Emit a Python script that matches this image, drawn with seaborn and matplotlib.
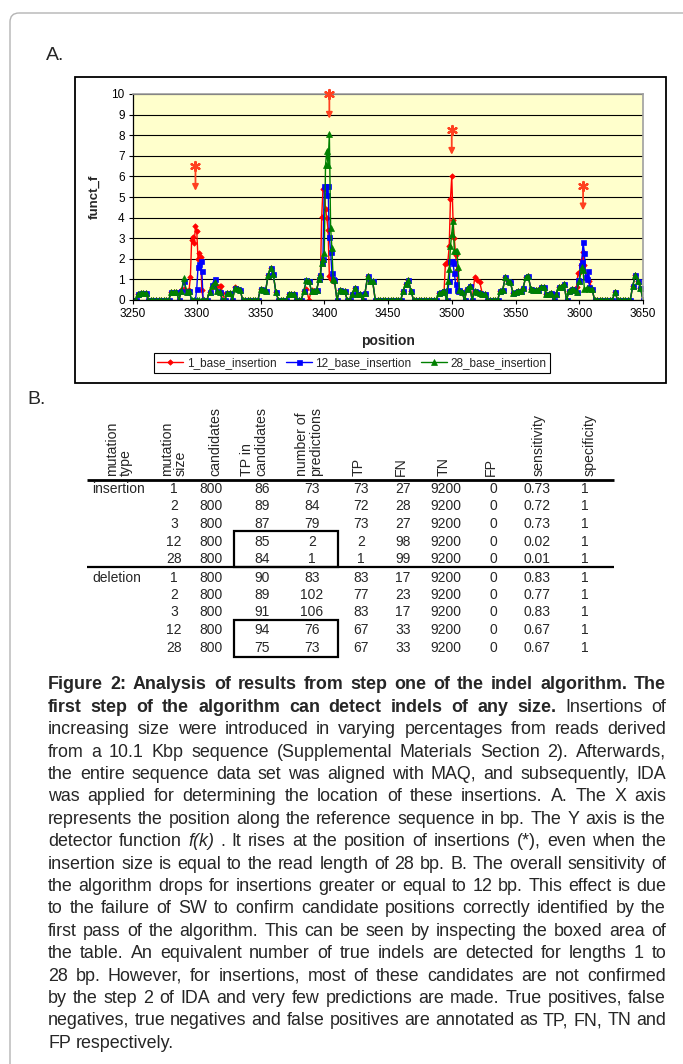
import matplotlib
matplotlib.use("Agg")
import matplotlib.pyplot as plt
import numpy as np
import pandas as pd
import seaborn as sns
from matplotlib import font_manager
from matplotlib.patches import FancyBboxPatch, Rectangle

# ---------------- data: detector function f(k) ----------------
positions = list(range(3250, 3651, 2))
base_funct = [
    0, 0, 0.3, 0.35, 0.35, 0.35, 0, 0, 0, 0,            # 3250-3268
    0, 0, 0, 0, 0, 0.4, 0.4, 0.4, 0, 0.45,              # 3270-3288
    1.05, 0.4, 0.45, 0, 0, 0, 0, 0, 0, 0,               # 3290-3308
    0.4, 0.7, 0.85, 0.45, 0.4, 0, 0, 0.35, 0.35, 0,     # 3310-3328
    0.6, 0.55, 0.5, 0, 0, 0, 0, 0, 0, 0,                # 3330-3348
    0.55, 0.5, 0.45, 1.2, 1.55, 1.25, 0.4, 0, 0, 0,     # 3350-3368
    0, 0.3, 0.3, 0.3, 0, 0, 0, 0.45, 0.95, 0.9,         # 3370-3388
    0.45, 0.45, 0.5, 1.0, 1.8, 2.3, 7.25, 8.05, 2.5, 0.95,  # 3390-3408
    0, 0.5, 0.45, 0.45, 0, 0, 0.3, 0.6, 0.3, 0.3,       # 3410-3428
    0, 0.35, 1.15, 0.9, 0.9, 0, 0, 0, 0, 0,             # 3430-3448
    0, 0, 0, 0, 0, 0, 0.45, 0.8, 0.95, 0.45,            # 3450-3468
    0, 0, 0, 0, 0, 0, 0, 0, 0, 0,                       # 3470-3488
    0.35, 0.4, 0.45, 0, 1.5, 3.2, 2.4, 2.4, 0.5, 0.4,   # 3490-3508
    0, 0.55, 0.7, 0, 0.45, 0.4, 0.35, 0.3, 0.3, 0,      # 3510-3528
    0, 0, 0, 0, 0.45, 0.5, 1.1, 0.9, 0.85, 0.35,        # 3530-3548
    0.4, 0.45, 0.45, 0.6, 1.1, 1.15, 0.55, 0.5, 0.5, 0.5,   # 3550-3568
    0.65, 0.65, 0.3, 0.3, 0.35, 0, 0.3, 0.65, 0.65, 0.8,    # 3570-3588
    0, 0.45, 0.55, 0.5, 0.4, 0.9, 1.6, 0.55, 0.6, 0.55,     # 3590-3608
    0.55, 0, 0, 0, 0, 0, 0, 0, 0, 0.4,                  # 3610-3628
    0, 0, 0, 0, 0, 0, 0.7, 1.2, 0.9, 0.6,               # 3630-3648
    0,                                                  # 3650
]

ins1_peaks = {3288: 0.5, 3290: 0.55, 3292: 0.45, 3294: 0.5, 3295: 1.1, 3296: 2.9,
              3297: 3.05, 3298: 2.75, 3299: 3.6, 3300: 3.35, 3301: 2.0, 3302: 2.3,
              3303: 2.1, 3304: 0.5, 3305: 0.0, 3312: 0.65, 3314: 0.7, 3316: 0.7,
              3318: 0.7, 3319: 0.7, 3320: 0.35, 3330: 0.65,
              3386: 0.55, 3388: 0.0, 3390: 0.5,
              3397: 1.2, 3398: 4.05, 3399: 5.4, 3400: 5.4, 3401: 4.4, 3402: 4.0,
              3403: 3.4, 3404: 1.15, 3405: 1.0, 3406: 1.0, 3407: 0.9,
              3495: 1.75, 3496: 1.8, 3497: 1.9, 3498: 2.6, 3499: 4.9, 3500: 6.0,
              3501: 3.9, 3502: 3.0, 3503: 2.2, 3504: 1.45, 3505: 0.45,
              3518: 1.1, 3520: 0.95, 3522: 0.85, 3524: 0.3,
              3598: 0.65, 3599: 1.3, 3600: 1.3, 3601: 1.7, 3602: 1.95, 3603: 2.35,
              3604: 1.7, 3606: 1.0, 3608: 0.9}
ins12_peaks = {3290: 0.9, 3299: 0.0, 3300: 0.55, 3301: 1.6, 3302: 1.75, 3303: 1.9,
               3304: 1.4, 3305: 0.0, 3312: 0.75, 3314: 1.0,
               3397: 1.2, 3399: 2.0, 3400: 5.55, 3401: 5.55, 3402: 5.1, 3403: 5.55,
               3404: 3.05, 3405: 2.35, 3406: 1.3, 3407: 1.0,
               3497: 0.5, 3498: 0.9, 3499: 1.9, 3500: 1.9, 3501: 1.8, 3502: 1.3,
               3503: 0.8, 3504: 0.5, 3505: 0.45,
               3599: 0.95, 3601: 1.7, 3602: 1.85, 3603: 2.8, 3604: 2.3, 3605: 1.1,
               3606: 1.0, 3607: 1.4, 3608: 0.65}
ins28_peaks = {3397: 1.2, 3399: 2.0, 3401: 6.55, 3403: 6.55, 3405: 3.5, 3407: 1.0,
               3497: 0.9, 3499: 2.6, 3501: 3.85, 3503: 2.4, 3505: 1.6,
               3603: 1.45}

series_names = ["1_base_insertion", "12_base_insertion", "28_base_insertion"]
series_colors = ["#FF0000", "#0000FF", "#008000"]
series_markers = ["D", "s", "^"]
series_msize = [2.8, 3.6, 3.8]

insertion_sites = [3299, 3404, 3500, 3603]
star_levels = [6.5, 10.0, 8.25, 5.55]

# ---------------- data: table ----------------
table_headers = ["mutation\ntype", "mutation\nsize", "candidates", "TP in\ncandidates",
                 "number of\npredictions", "TP", "FN", "TN", "FP", "sensitivity", "specificity"]
mutation_type = ["insertion"] * 5 + ["deletion"] * 5
mutation_size = [1, 2, 3, 12, 28, 1, 2, 3, 12, 28]
candidates = [800] * 10
tp_in_candidates = [86, 89, 87, 85, 84, 90, 89, 91, 94, 75]
n_predictions = [73, 84, 79, 2, 1, 83, 102, 106, 76, 73]
tp = [73, 72, 73, 2, 1, 83, 77, 83, 67, 67]
fn = [27, 28, 27, 98, 99, 17, 23, 17, 33, 33]
tn = [9200] * 10
fp = [0] * 10
sensitivity = [0.73, 0.72, 0.73, 0.02, 0.01, 0.83, 0.77, 0.83, 0.67, 0.67]
specificity = [1] * 10

caption_lines = [
    [("Figure 2: Analysis of results from step one of the indel algorithm. The", "bold")],
    [("first step of the algorithm can detect indels of any size.", "bold"), ("Insertions of", "normal")],
    [("increasing size were introduced in varying percentages from reads derived", "normal")],
    [("from a 10.1 Kbp sequence (Supplemental Materials Section 2). Afterwards,", "normal")],
    [("the entire sequence data set was aligned with MAQ, and subsequently, IDA", "normal")],
    [("was applied for determining the location of these insertions. A. The X axis", "normal")],
    [("represents the position along the reference sequence in bp. The Y axis is the", "normal")],
    [("detector function", "normal"), ("f(k)", "italic"), (". It rises at the position of insertions (*), even when the", "normal")],
    [("insertion size is equal to the read length of 28 bp. B. The overall sensitivity of", "normal")],
    [("the algorithm drops for insertions greater or equal to 12 bp. This effect is due", "normal")],
    [("to the failure of SW to confirm candidate positions correctly identified by the", "normal")],
    [("first pass of the algorithm. This can be seen by inspecting the boxed area of", "normal")],
    [("the table. An equivalent number of true indels are detected for lengths 1 to", "normal")],
    [("28 bp. However, for insertions, most of these candidates are not confirmed", "normal")],
    [("by the step 2 of IDA and very few predictions are made. True positives, false", "normal")],
    [("negatives, true negatives and false positives are annotated as TP, FN, TN and", "normal")],
    [("FP respectively.", "normal")],
]

# ---------------- build series ----------------
frames = []
for name, peaks in zip(series_names, [ins1_peaks, ins12_peaks, ins28_peaks]):
    d = dict(zip(positions, base_funct))
    d.update(peaks)
    xs = sorted(d)
    frames.append(pd.DataFrame({"position": xs, "funct_f": [d[x] for x in xs]}))

# ---------------- figure ----------------
sns.set_style("white")
plt.rcParams["font.family"] = ["Liberation Sans", "DejaVu Sans"]
avail = {f.name for f in font_manager.fontManager.ttflist}
cap_family = "Liberation Sans Narrow" if "Liberation Sans Narrow" in avail else "Liberation Sans"

W, H = 683, 1064
fig = plt.figure(figsize=(W / 100, H / 100), dpi=100)
fig.patch.set_facecolor("white")

bg = fig.add_axes([0, 0, 1, 1], zorder=0)
bg.set_xlim(0, W)
bg.set_ylim(H, 0)
bg.axis("off")

bg.add_patch(FancyBboxPatch((10, 13), 720, 1100, boxstyle="round,pad=0,rounding_size=9",
                            fc="none", ec="#b4b4b4", lw=1.0))
bg.text(46, 56, "A.", fontsize=14, va="center", ha="left")
bg.text(27, 400, "B.", fontsize=14, va="center", ha="left")
bg.add_patch(Rectangle((75, 77), 591, 306, fc="white", ec="black", lw=1.3))

# chart axes
L, R, T, B = 133, 643, 94, 300
ax = fig.add_axes([L / W, 1 - B / H, (R - L) / W, (B - T) / H], zorder=2)
ax.set_facecolor("#FFFFCC")
for df, name, col, mk, ms in zip(frames, series_names, series_colors, series_markers, series_msize):
    sns.lineplot(data=df, x="position", y="funct_f", ax=ax, color=col, marker=mk,
                 markersize=ms, markeredgewidth=0.5, markeredgecolor=col, linewidth=1.0,
                 label=name, estimator=None, sort=True)

star_col = "#FF4020"
for x, y in zip(insertion_sites, star_levels):
    ax.annotate("", xy=(x, y - 1.2), xytext=(x, y - 0.2),
                arrowprops=dict(arrowstyle="-|>", color=star_col, lw=1.3, mutation_scale=9,
                                shrinkA=0, shrinkB=0), annotation_clip=False)
ax.scatter(insertion_sites, star_levels, marker=(6, 2, 0), s=42, color=star_col,
           zorder=6, clip_on=False, linewidths=1.6)

ax.set_xlim(3250, 3650)
ax.set_ylim(0, 10)
ax.set_xticks(range(3250, 3651, 50))
ax.set_yticks(range(0, 11))
ax.yaxis.grid(True, color="black", lw=0.8)
ax.xaxis.grid(False)
ax.set_axisbelow(True)
for s in ["left", "bottom"]:
    ax.spines[s].set_color("black")
    ax.spines[s].set_linewidth(0.9)
for s in ["top", "right"]:
    ax.spines[s].set_color("#a0a0a0")
    ax.spines[s].set_linewidth(1.2)
ax.tick_params(axis="both", direction="out", length=3, width=0.8, labelsize=8.5, pad=3,
               bottom=True, left=True, colors="black")
ax.set_xlabel("position", fontsize=10, fontweight="bold")
ax.xaxis.set_label_coords(0.5, (B - 334) / (B - T))
ax.set_ylabel("funct_f", fontsize=9.5, fontweight="bold")
ax.yaxis.set_label_coords((101 - L) / (R - L), 0.5)

leg = ax.legend(loc="center", bbox_to_anchor=(352 / W, 1 - 363 / H),
                bbox_transform=fig.transFigure, ncol=3, frameon=True, fancybox=False,
                edgecolor="black", framealpha=1, fontsize=8.5, handlelength=2.2,
                handletextpad=0.3, columnspacing=0.8, borderpad=0.3)
leg.get_frame().set_linewidth(0.8)

# ---------------- table ----------------
header_x = [119, 174, 215, 254, 309, 359, 401, 444, 491, 539, 590]
for hx, h in zip(header_x, table_headers):
    bg.text(hx, 476, h, rotation=90, ha="center", va="bottom", multialignment="left",
            fontsize=10.2, linespacing=1.0)

bg.plot([87, 614], [480, 480], color="black", lw=2.0, solid_capstyle="butt")
bg.plot([87, 614], [567, 567], color="black", lw=1.6, solid_capstyle="butt")

col_x = [174, 211, 262, 312, 361, 403, 446, 493, 537, 585]
row_y = [489, 506.5, 524, 541.5, 559, 577.5, 595, 612.5, 630, 647.5]
for i in range(10):
    y = row_y[i]
    if i in (0, 5):
        bg.text(92, y, mutation_type[i], ha="left", va="center", fontsize=10)
    vals = [mutation_size[i], candidates[i], tp_in_candidates[i], n_predictions[i],
            tp[i], fn[i], tn[i], fp[i], f"{sensitivity[i]:.2f}", specificity[i]]
    for cx, v in zip(col_x, vals):
        bg.text(cx, y, str(v), ha="center", va="center", fontsize=10)

bg.add_patch(Rectangle((234, 531), 104, 36, fill=False, ec="black", lw=1.6))
bg.add_patch(Rectangle((234, 620), 104, 37, fill=False, ec="black", lw=1.6))

# ---------------- caption (justified) ----------------
renderer = fig.canvas.get_renderer()
x0, x1 = 48, 666
first_center, spacing = 683, 22.4


def make_words(line):
    out = []
    for seg, sty in line:
        for w in seg.split():
            out.append((w, sty))
    return out


def word_text(w, sty, fs, y=0):
    return bg.text(0, y, w, fontsize=fs, va="baseline", ha="left", family=cap_family,
                   fontweight="bold" if sty == "bold" else "normal",
                   fontstyle="italic" if sty == "italic" else "normal")


# fit font size so the widest line fits with normal word spacing
fs0 = 10.0
nat = []
for line in caption_lines[:-1]:
    ws = make_words(line)
    tot = 0
    for w, sty in ws:
        t = word_text(w, sty, fs0)
        tot += t.get_window_extent(renderer).width
        t.remove()
    tot += (len(ws) - 1) * 0.25 * fs0 * 100 / 72
    nat.append(tot)
fs = min(16.0, fs0 * (x1 - x0) * 0.995 / max(nat))

for i, line in enumerate(caption_lines):
    words = make_words(line)
    base_y = first_center + i * spacing + 0.36 * fs * 100 / 72
    texts, widths = [], []
    for w, sty in words:
        t = word_text(w, sty, fs, base_y)
        texts.append(t)
        widths.append(t.get_window_extent(renderer).width)
    if i == len(caption_lines) - 1:
        gap = 0.278 * fs * 100 / 72
    else:
        gap = (x1 - x0 - sum(widths)) / (len(words) - 1)
    x = x0
    for t, w in zip(texts, widths):
        t.set_x(x)
        x += w + gap

fig.savefig("out.png", dpi=100, facecolor="white")
